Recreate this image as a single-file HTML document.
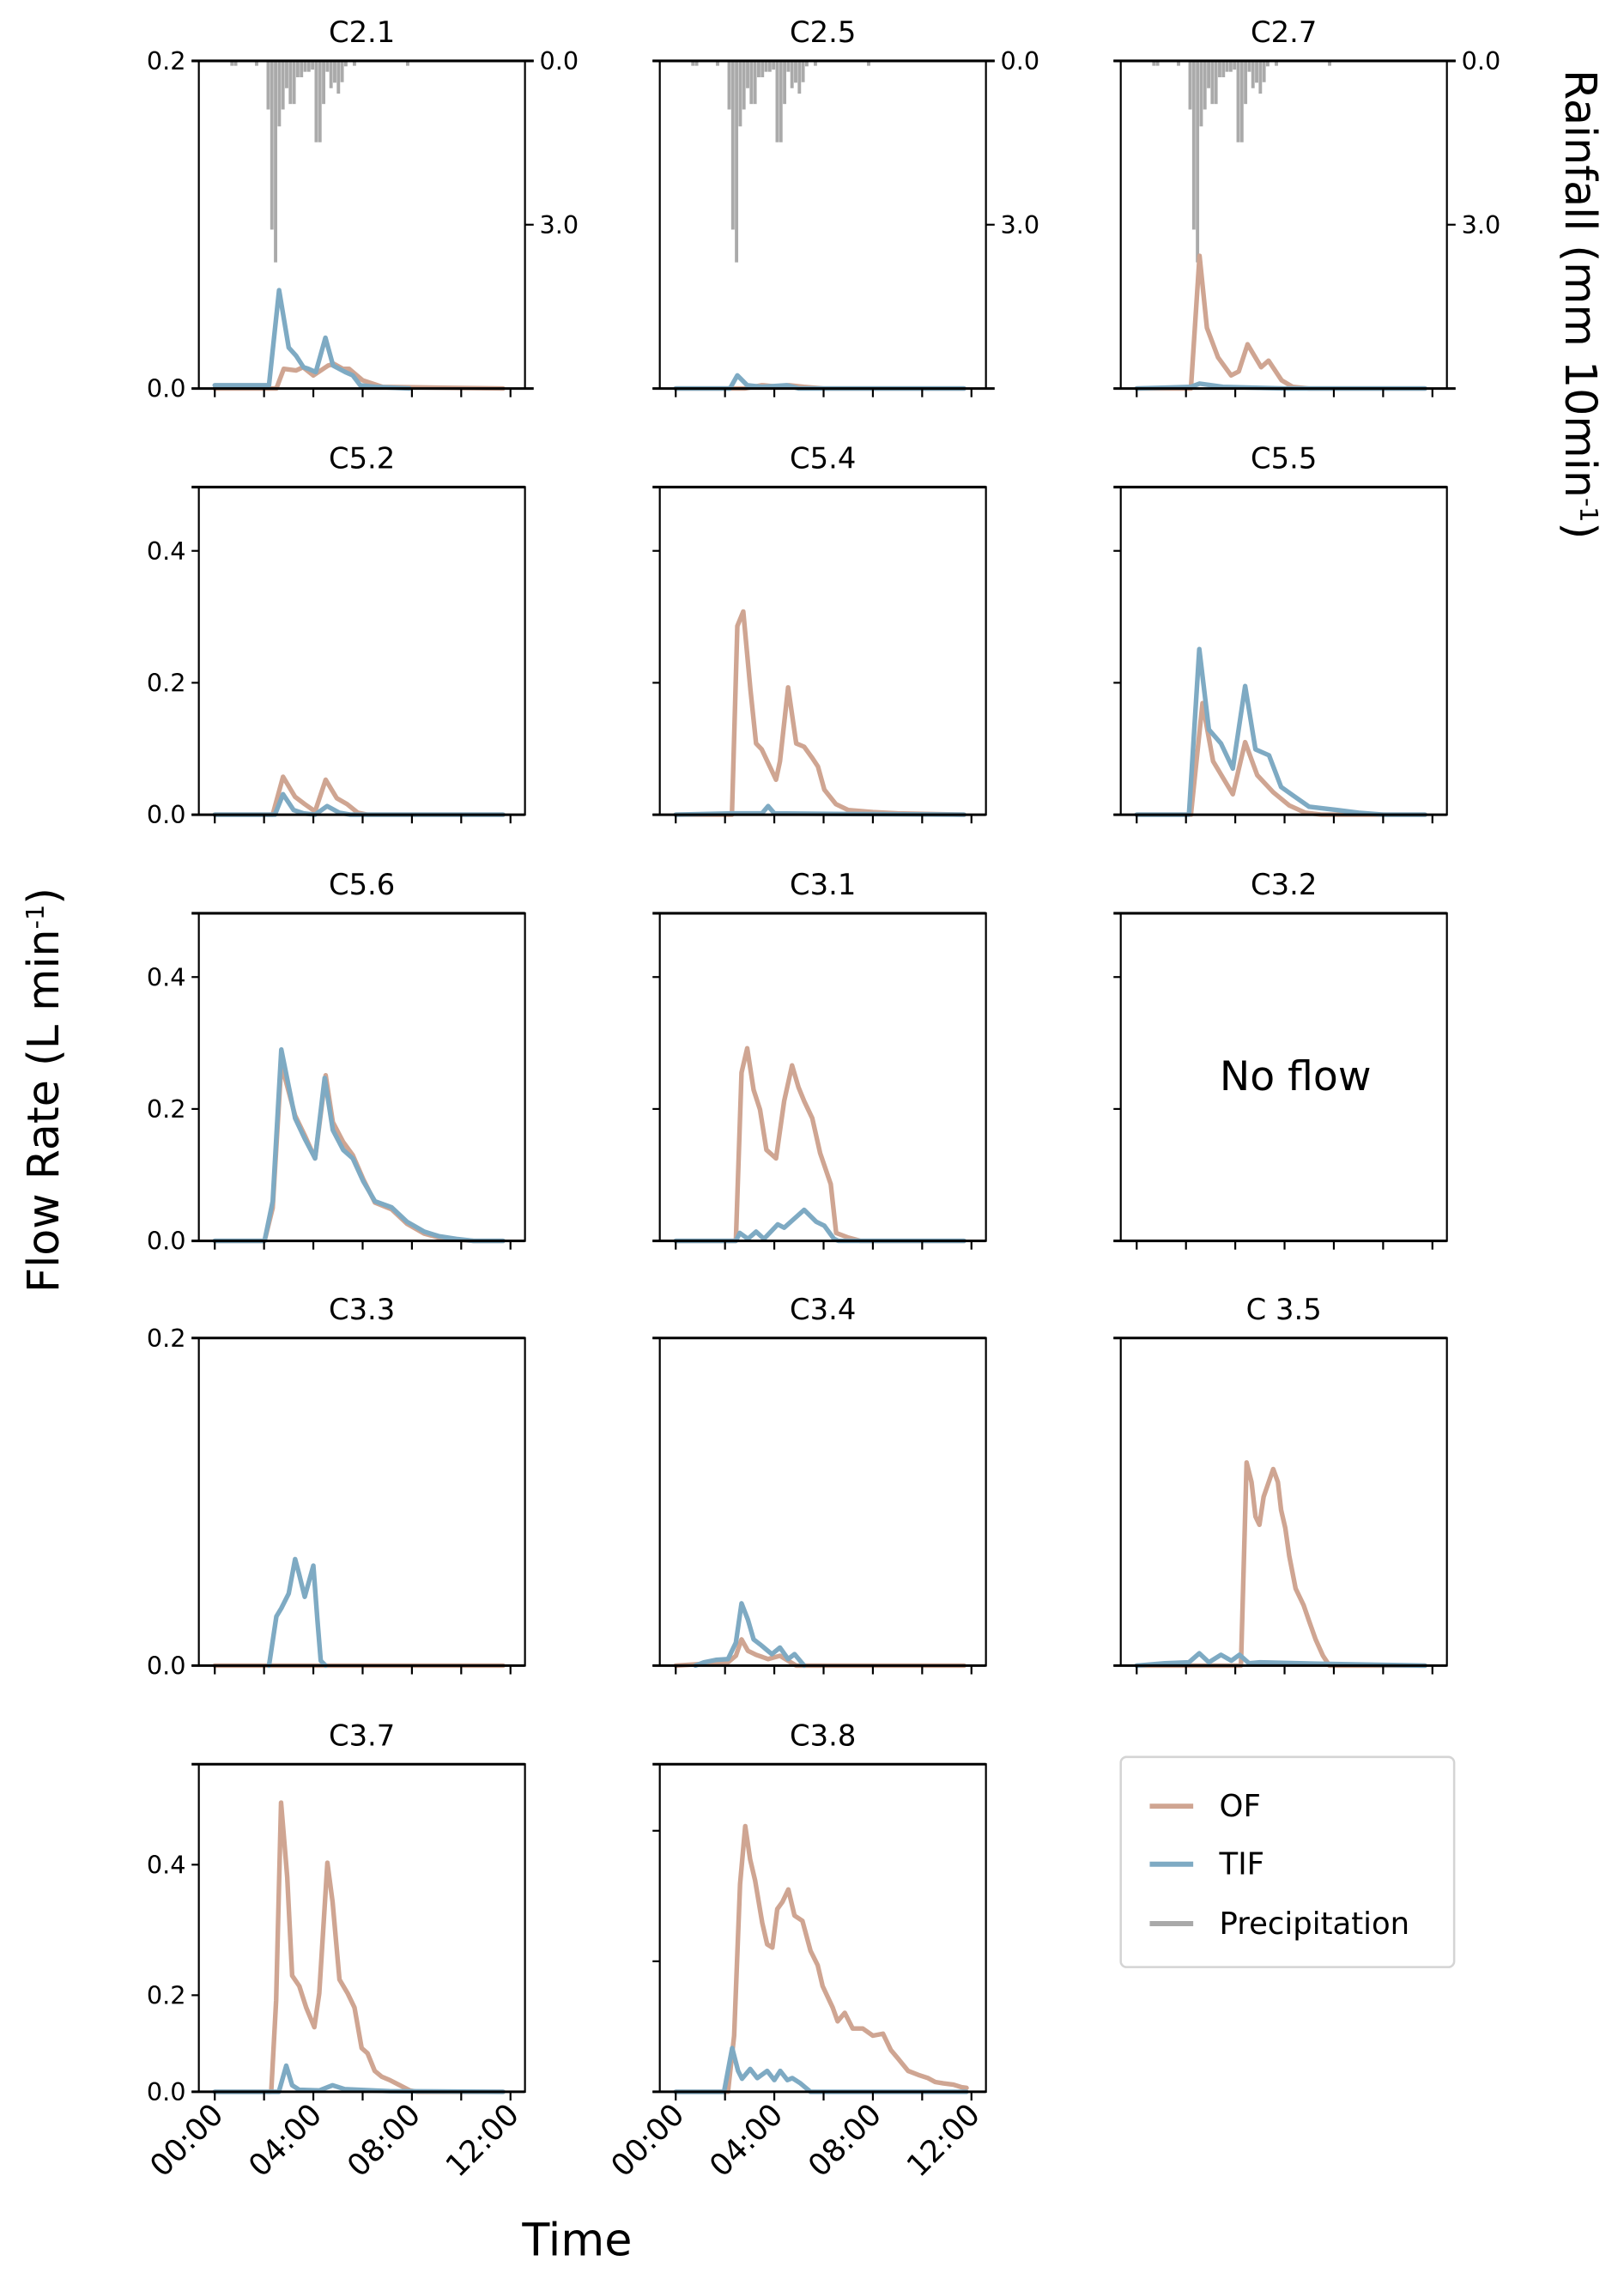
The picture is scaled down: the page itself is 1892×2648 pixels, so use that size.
<!DOCTYPE html>
<html><head><meta charset="utf-8"><style>
html,body{margin:0;padding:0;background:#fff;}
svg{display:block;font-family:"DejaVu Sans","Liberation Sans",sans-serif;}
</style></head><body>
<svg id="fig" width="1892" height="2648" viewBox="0 0 1120 1568" xmlns="http://www.w3.org/2000/svg">
<text x="0" y="0" transform="translate(40,752) rotate(-90)" text-anchor="middle" font-size="30">Flow Rate (L min<tspan baseline-shift="super" font-size="17">-1</tspan>)</text>
<text x="0" y="0" transform="translate(1080,210) rotate(90)" text-anchor="middle" font-size="30">Rainfall (mm 10min<tspan baseline-shift="super" font-size="17">-1</tspan>)</text>
<text x="398" y="1556" text-anchor="middle" font-size="31">Time</text>
<g>
<rect x="773" y="1212" width="230" height="145" rx="4" fill="#fff" stroke="#d4d4d4" stroke-width="1.5"/>
<line x1="793" y1="1246" x2="823" y2="1246" stroke="#cfa592" stroke-width="3.5"/>
<text x="841" y="1253" font-size="21">OF</text>
<line x1="793" y1="1286" x2="823" y2="1286" stroke="#7eaac3" stroke-width="3.5"/>
<text x="841" y="1293" font-size="21">TIF</text>
<line x1="793" y1="1327" x2="823" y2="1327" stroke="#a9a9a9" stroke-width="3.5"/>
<text x="841" y="1334" font-size="21">Precipitation</text>
</g>
</svg>
<script>
// Rainfall (mm per 10 min), hours
const rainHours = [0.63,0.78,1.63,2.10,2.25,2.40,2.55,2.70,2.85,3.00,3.15,3.30,3.45,3.60,3.75,3.90,4.05,4.20,4.35,4.50,4.65,4.80,4.95,5.10,5.25,5.60,7.76];
const rainValues = [0.09,0.09,0.09,0.89,3.09,3.69,1.2,0.89,0.5,0.79,0.79,0.3,0.3,0.2,0.2,0.16,1.49,1.49,0.79,0.2,0.5,0.4,0.6,0.39,0.1,0.09,0.09];
const xTickHours = [0,2,4,6,8,10,12];
const xTickLabels = ["00:00","","04:00","","08:00","","12:00"];

const c21OfH = [0,2.5,2.8,3.3,3.58,4.0,4.6,4.84,5.2,5.45,6.0,6.8,11.7];
const c21OfV = [0,0,0.012,0.011,0.013,0.008,0.014,0.015,0.012,0.012,0.005,0.001,0];
const c21TifH = [0,2.2,2.61,3.0,3.3,3.6,3.8,4.1,4.49,4.8,5.3,5.6,5.9,6.5,7.9];
const c21TifV = [0.002,0.002,0.06,0.025,0.02,0.013,0.012,0.01,0.031,0.014,0.01,0.008,0.002,0.001,0];
const c25OfH = [0,2.8,3.5,4.2,4.6,5.2,6,11.7];
const c25OfV = [0,0,0.002,0.001,0.002,0.001,0,0];
const c25TifH = [0,2.2,2.5,2.9,3.5,4.5,5,11.7];
const c25TifV = [0,0,0.008,0.002,0.001,0.002,0,0];
const c27OfH = [0,2.2,2.55,2.85,3.3,3.83,4.14,4.5,5.05,5.35,5.88,6.33,7,11.7];
const c27OfV = [0,0,0.081,0.037,0.019,0.008,0.0104,0.027,0.013,0.017,0.005,0.001,0,0];
const c27TifH = [0,2.2,2.55,3.5,6,11.7];
const c27TifV = [0,0.001,0.003,0.001,0,0];
const c52OfH = [0,2.35,2.77,3.26,3.65,4.07,4.5,4.95,5.37,5.8,6.2,11.7];
const c52OfV = [0,0,0.0575,0.027,0.016,0.005,0.053,0.025,0.016,0.003,0,0];
const c52TifH = [0,2.44,2.77,3.2,3.6,4.07,4.56,5.05,5.5,11.7];
const c52TifV = [0,0,0.031,0.007,0.002,0,0.013,0.003,0,0];
const c54OfH = [0,2.28,2.5,2.74,3.03,3.26,3.49,4.07,4.23,4.56,4.89,5.21,5.54,5.77,6.03,6.5,7.0,8.0,9.0,11.7];
const c54OfV = [0,0,0.286,0.308,0.19,0.108,0.099,0.053,0.081,0.193,0.108,0.103,0.086,0.073,0.038,0.016,0.007,0.004,0.002,0];
const c54TifH = [0,2.3,3.5,3.75,4.0,7.0,11.7];
const c54TifV = [0,0.002,0.002,0.013,0.002,0.001,0];
const c55OfH = [0,2.2,2.67,3.1,3.9,4.4,4.89,5.54,6.19,6.84,7.5,11.7];
const c55OfV = [0,0,0.169,0.081,0.031,0.11,0.06,0.034,0.014,0.003,0,0];
const c55TifH = [0,2.12,2.54,2.93,3.42,3.9,4.4,4.82,5.37,5.86,6.35,7.0,8.14,9.0,10.0,11.7];
const c55TifV = [0,0,0.251,0.129,0.108,0.07,0.195,0.099,0.09,0.042,0.029,0.012,0.007,0.003,0,0];
const c56OfH = [0,2.02,2.35,2.7,3.26,3.65,4.07,4.5,4.79,5.21,5.6,6.03,6.5,7.17,7.8,8.5,9.1,9.8,10.5,11.7];
const c56OfV = [0,0,0.05,0.268,0.19,0.16,0.125,0.251,0.18,0.15,0.13,0.093,0.058,0.048,0.026,0.011,0.005,0.002,0,0];
const c56TifH = [0,2.02,2.35,2.7,3.26,3.65,4.07,4.46,4.79,5.21,5.6,6.03,6.5,7.17,7.8,8.5,9.1,9.8,10.5,11.7];
const c56TifV = [0,0,0.06,0.29,0.186,0.155,0.125,0.247,0.168,0.138,0.125,0.09,0.06,0.051,0.029,0.014,0.007,0.003,0,0];
const c31OfH = [0,2.44,2.67,2.9,3.16,3.42,3.68,4.07,4.4,4.72,4.98,5.21,5.54,5.86,6.29,6.51,7.0,7.5,11.7];
const c31OfV = [0,0,0.255,0.292,0.229,0.199,0.138,0.125,0.212,0.266,0.233,0.212,0.186,0.133,0.086,0.012,0.005,0,0];
const c31TifH = [0,2.44,2.6,2.93,3.26,3.58,4.14,4.4,4.79,5.21,5.7,6.03,6.42,6.6,11.7];
const c31TifV = [0,0,0.012,0.003,0.014,0.003,0.025,0.02,0.033,0.047,0.029,0.023,0.003,0,0];
const c33OfH = [0,11.7];
const c33OfV = [0,0];
const c33TifH = [2.2,2.5,2.7,3.0,3.26,3.42,3.65,4.0,4.17,4.3,4.5];
const c33TifV = [0,0.030,0.035,0.044,0.065,0.056,0.042,0.061,0.027,0.003,0];
const c34OfH = [0,1.47,2.12,2.44,2.67,2.93,3.26,3.75,4.23,4.56,4.89,11.7];
const c34OfV = [0,0.0014,0.002,0.006,0.016,0.009,0.0066,0.004,0.006,0.003,0,0];
const c34TifH = [0.8,1.14,1.63,2.12,2.44,2.67,2.93,3.16,3.42,3.9,4.23,4.56,4.82,5.21];
const c34TifV = [0,0.002,0.0035,0.004,0.014,0.038,0.028,0.016,0.013,0.007,0.011,0.004,0.007,0];
const c35OfH = [0,4.23,4.46,4.66,4.82,4.98,5.15,5.54,5.73,5.86,6.03,6.19,6.45,6.77,7.0,7.26,7.56,7.82,11.7];
const c35OfV = [0,0,0.124,0.112,0.091,0.086,0.103,0.12,0.112,0.095,0.084,0.067,0.047,0.037,0.027,0.016,0.006,0,0];
const c35TifH = [0,1.14,2.12,2.54,2.93,3.42,3.84,4.17,4.56,5.0,7.8,11.7];
const c35TifV = [0,0.0014,0.002,0.0075,0.002,0.0066,0.003,0.0066,0.0014,0.002,0.001,0];
const c37OfH = [0,2.29,2.49,2.69,2.94,3.14,3.43,3.71,4.04,4.24,4.57,4.78,5.06,5.39,5.67,5.96,6.2,6.49,6.78,7.1,7.51,7.92,8.2,11.7];
const c37OfV = [0.052,0.052,0.192,0.495,0.381,0.23,0.214,0.181,0.151,0.203,0.403,0.343,0.224,0.203,0.181,0.119,0.111,0.084,0.075,0.07,0.062,0.054,0.052,0.052];
const c37TifH = [0,2.6,2.9,3.14,3.43,4.24,4.78,5.27,7.1,11.7];
const c37TifV = [0.052,0.052,0.092,0.062,0.055,0.054,0.062,0.056,0.053,0.052];
const c38OfH = [0,2.12,2.37,2.61,2.82,3.02,3.22,3.51,3.71,3.92,4.12,4.33,4.57,4.82,5.14,5.47,5.76,5.96,6.37,6.57,6.86,7.18,7.59,8.0,8.41,8.73,9.02,9.43,9.84,10.24,10.53,10.86,11.27,11.6,11.8];
const c38OfV = [0,0,0.086,0.318,0.407,0.356,0.324,0.259,0.226,0.221,0.28,0.291,0.31,0.27,0.262,0.216,0.194,0.162,0.129,0.108,0.121,0.097,0.097,0.086,0.089,0.064,0.051,0.032,0.026,0.021,0.015,0.013,0.011,0.007,0.006];
const c38TifH = [0,1.96,2.29,2.53,2.69,3.02,3.31,3.71,4.0,4.24,4.53,4.73,5.06,5.47,11.8];
const c38TifV = [0,0,0.067,0.032,0.02,0.035,0.021,0.032,0.018,0.032,0.018,0.021,0.013,0,0];

const panels = [
 {id:'c2-1',title:'C2.1',col:0,row:0,ymin:0,ymax:0.2,ticks:[0,0.2],lab:['0.0','0.2'],of:[c21OfH,c21OfV],tif:[c21TifH,c21TifV]},
 {id:'c2-5',title:'C2.5',col:1,row:0,ymin:0,ymax:0.2,ticks:[0,0.2],lab:null,of:[c25OfH,c25OfV],tif:[c25TifH,c25TifV]},
 {id:'c2-7',title:'C2.7',col:2,row:0,ymin:0,ymax:0.2,ticks:[0,0.2],lab:null,of:[c27OfH,c27OfV],tif:[c27TifH,c27TifV]},
 {id:'c5-2',title:'C5.2',col:0,row:1,ymin:0,ymax:0.4967,ticks:[0,0.2,0.4],lab:['0.0','0.2','0.4'],of:[c52OfH,c52OfV],tif:[c52TifH,c52TifV]},
 {id:'c5-4',title:'C5.4',col:1,row:1,ymin:0,ymax:0.4967,ticks:[0,0.2,0.4],lab:null,of:[c54OfH,c54OfV],tif:[c54TifH,c54TifV]},
 {id:'c5-5',title:'C5.5',col:2,row:1,ymin:0,ymax:0.4967,ticks:[0,0.2,0.4],lab:null,of:[c55OfH,c55OfV],tif:[c55TifH,c55TifV]},
 {id:'c5-6',title:'C5.6',col:0,row:2,ymin:0,ymax:0.4967,ticks:[0,0.2,0.4],lab:['0.0','0.2','0.4'],of:[c56OfH,c56OfV],tif:[c56TifH,c56TifV]},
 {id:'c3-1',title:'C3.1',col:1,row:2,ymin:0,ymax:0.4967,ticks:[0,0.2,0.4],lab:null,of:[c31OfH,c31OfV],tif:[c31TifH,c31TifV]},
 {id:'c3-2',title:'C3.2',col:2,row:2,ymin:0,ymax:0.4967,ticks:[0,0.2,0.4],lab:null,of:null,tif:null,noflow:true},
 {id:'c3-3',title:'C3.3',col:0,row:3,ymin:0,ymax:0.2,ticks:[0,0.2],lab:['0.0','0.2'],of:[c33OfH,c33OfV],tif:[c33TifH,c33TifV]},
 {id:'c3-4',title:'C3.4',col:1,row:3,ymin:0,ymax:0.2,ticks:[0,0.2],lab:null,of:[c34OfH,c34OfV],tif:[c34TifH,c34TifV]},
 {id:'c3-5',title:'C 3.5',col:2,row:3,ymin:0,ymax:0.2,ticks:[0,0.2],lab:null,of:[c35OfH,c35OfV],tif:[c35TifH,c35TifV]},
 {id:'c3-7',title:'C3.7',col:0,row:4,ymin:0.052,ymax:0.554,ticks:[0.052,0.2,0.4],lab:['0.0','0.2','0.4'],of:[c37OfH,c37OfV],tif:[c37TifH,c37TifV],xlab:true},
 {id:'c3-8',title:'C3.8',col:1,row:4,ymin:0,ymax:0.502,ticks:[0,0.2,0.4],lab:null,of:[c38OfH,c38OfV],tif:[c38TifH,c38TifV],xlab:true}
];
const LEFTS=[137,455,773], TOPS=[42,336,630,923,1217], W=225, H=226;
const NS='http://www.w3.org/2000/svg';
const svg=document.getElementById('fig');
function mk(tag,attrs,parent){const e=document.createElementNS(NS,tag);for(const k in attrs)e.setAttribute(k,attrs[k]);parent.appendChild(e);return e;}

panels.forEach(p=>{
  const L=LEFTS[p.col], T=TOPS[p.row], B=T+H, R=L+W;
  const xs=h=>L+11+h*17;
  const ys=v=>{let y=B-(v-p.ymin)/(p.ymax-p.ymin)*H; return Math.min(B,Math.max(T,y));};
  const g=mk('g',{},svg);
  
  
  const t=mk('text',{x:L+W/2,y:T-13,'text-anchor':'middle','font-size':'20'},g);
  t.textContent=p.title;
  
  
  if(p.row===0){
    const rg=mk('g',{},g);
    
    
    rainHours.forEach((h,i)=>{
      const r=mk('rect',{x:xs(h),y:T,width:2.3,height:rainValues[i]*H/6,fill:'#aaaaaa'},rg);
      
      
    });
  }
  [['of',p.of,'#cfa592'],['tif',p.tif,'#7eaac3']].forEach(([nm,s,c])=>{
    if(!s)return;
    const d=s[0].map((h,i)=>(i?'L':'M')+xs(h).toFixed(2)+','+ys(s[1][i]).toFixed(2)).join(' ');
    const pa=mk('path',{d:d,fill:'none',stroke:c,'stroke-width':'3.2','stroke-linejoin':'round','stroke-linecap':'round'},g);
    
    
  });
  if(p.noflow){
    const nf=mk('text',{x:L+W/2+8,y:T+H/2+9,'text-anchor':'middle','font-size':'28'},g);
    nf.textContent='No flow';
    
    
  }
  mk('rect',{x:L,y:T,width:W,height:H,fill:'none',stroke:'#000','stroke-width':'1.3'},g);
  mk('line',{x1:L-5,y1:T,x2:R+(p.row===0?6:0),y2:T,stroke:'#000','stroke-width':'1.8'},g);
  mk('line',{x1:L-5,y1:B,x2:R+(p.row===0?6:0),y2:B,stroke:'#000','stroke-width':'1.8'},g);
  p.ticks.forEach((v,i)=>{
    const y=ys(v);
    mk('line',{x1:L-5,y1:y,x2:L,y2:y,stroke:'#000','stroke-width':'1.3'},g);
    if(p.lab){
      const tl=mk('text',{x:L-9,y:y+6,'text-anchor':'end','font-size':'17'},g);
      tl.textContent=p.lab[i];
      
      
    }
  });
  if(p.row===0){
    [[0,'0.0'],[3,'3.0']].forEach(([v,s])=>{
      const y=T+v*H/6;
      mk('line',{x1:R,y1:y,x2:R+6,y2:y,stroke:'#000','stroke-width':'1.3'},g);
      const tl=mk('text',{x:R+10,y:y+6,'font-size':'17'},g);
      tl.textContent=s;
      
      
    });
  }
  xTickHours.forEach((h,i)=>{
    const x=xs(h);
    mk('line',{x1:x,y1:B,x2:x,y2:B+6,stroke:'#000','stroke-width':'1.3'},g);
    if(p.xlab && xTickLabels[i]){
      const tl=mk('text',{x:0,y:0,'text-anchor':'end','font-size':'21',transform:'translate('+(x+7)+','+(B+17)+') rotate(-45)'},g);
      tl.textContent=xTickLabels[i];
      
      
    }
  });
});
</script>
</body></html>
